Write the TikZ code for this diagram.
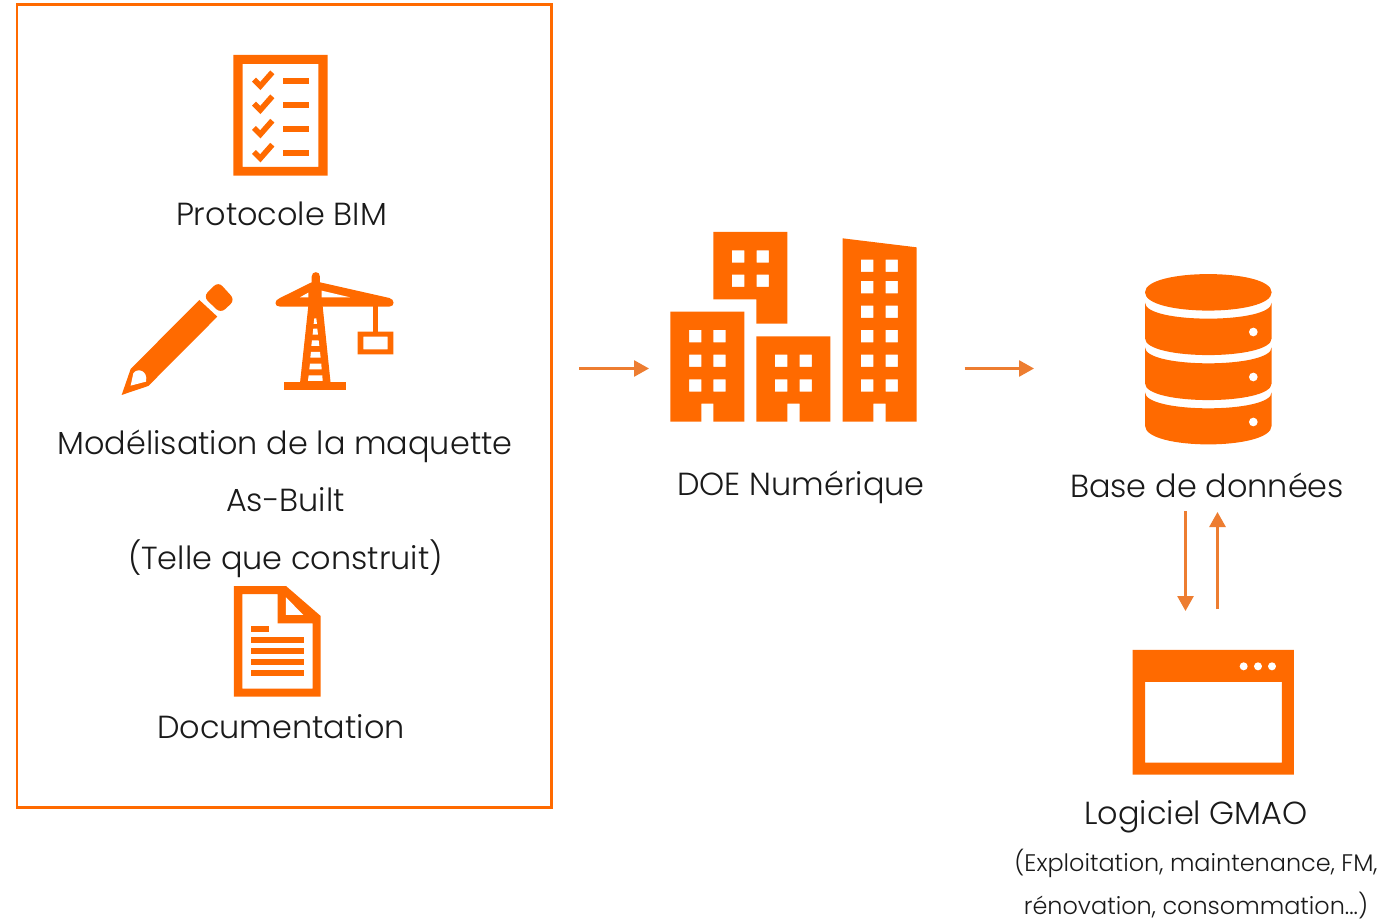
\documentclass[tikz,border=0pt]{standalone}
\usepackage{fontspec}
\setmainfont{Poppins}[UprightFont=* Light]
\usetikzlibrary{arrows.meta}
\definecolor{ico}{HTML}{FF6A00}
\definecolor{arr}{HTML}{ED7D31}
\definecolor{txt}{HTML}{1A1A1A}
\tikzset{
  lab/.style={anchor=base,inner sep=0pt,text=txt,font=\fontsize{31.9}{32}\selectfont},
  sublab/.style={anchor=base,inner sep=0pt,text=txt,font=\fontsize{23.95}{24}\selectfont},
  frame/.style={draw=ico,line width=2.7pt},
  conn/.style={draw=arr,line width=2.7pt,-{Triangle[length=15pt,width=16pt]}},
  ic/.style={fill=ico,draw=none},
  hole/.style={fill=white,draw=none}
}
\newcommand{\win}[2]{(#1,#2) rectangle ++(37,37)}
\begin{document}
\begin{tikzpicture}[x=1pt,y=-1pt]
\useasboundingbox (0,0) rectangle (1398,920);
\fill[white] (0,0) rectangle (1398,920);
\draw[frame] (17,4.5) rectangle (551.5,807.5);

% checklist + pencil + crane (zoom coordinates)
\begin{scope}[shift={(100,40)},x=0.3333pt,y=-0.3333pt]
\fill[ic,even odd rule] (400,45) rectangle (683,407) (428,72) rectangle (655,381);
\foreach \d in {0,72,145,217}{
  \fill[ic] (550,113+\d) rectangle (628,131+\d);
  \draw[ico,line width=5.6pt] (462,119+\d) -- (481,138+\d) -- (517,97+\d);
}
% pencil
\fill[ic] (65,1065) -- (92,987) -- (298,780) -- (352,830) -- (145,1038) -- cycle;
\fill[ic,rounded corners=6pt] (310,770) -- (355,725) -- (405,780) -- (362,820) -- cycle;
\fill[hole] (92,1037) -- (100,1000) .. controls (112,982) and (145,992) .. (138,1025) -- cycle;
% crane
\fill[ic] (540,774) -- (635,727) -- (635,710) .. controls (635,692) and (660,692) .. (660,710) -- (660,727) -- (868,774)
  .. controls (885,778) and (885,800) .. (868,800) -- (540,800) .. controls (522,800) and (522,780) .. (540,774) -- cycle;
\fill[hole] (600,772) -- (625,758) -- (625,772) -- cycle;
\fill[hole] (665,752) -- (750,772) -- (665,772) -- cycle;
\fill[ic] (625,798) -- (668,798) -- (692,1030) -- (600,1030) -- cycle;
\fill[hole] (643,835) -- (649,835) -- (651,852) -- (641,852) -- cycle;
\fill[hole] (640,866) -- (652,866) -- (654,884) -- (638,884) -- cycle;
\fill[hole] (636,901) -- (656,901) -- (658,918) -- (634,918) -- cycle;
\fill[hole] (633,936) -- (660,936) -- (662,953) -- (631,953) -- cycle;
\fill[hole] (630,971) -- (664,971) -- (665,988) -- (628,988) -- cycle;
\fill[hole] (626,1006) -- (667,1006) -- (668,1023) -- (624,1023) -- cycle;
\fill[ic] (553,1025) rectangle (738,1051);
\fill[ic] (818,795) rectangle (835,880);
\fill[ic,even odd rule] (773,875) rectangle (880,943) (790,890) rectangle (863,928);
\end{scope}

% document
\begin{scope}[shift={(210,580)},x=0.3333pt,y=-0.3333pt]
\fill[ic,even odd rule] (72,18) -- (228,18) -- (332,108) -- (332,350) -- (72,350) -- cycle
  (97,42) -- (203,42) -- (203,130) -- (308,130) -- (308,326) -- (97,326) -- cycle;
\fill[hole] (228,52) -- (280,105) -- (228,105) -- cycle;
\fill[ic] (122,139) rectangle (178,155);
\foreach \y in {172,205,238,271}{\fill[ic] (122,\y) rectangle (282,\y+16);}
\end{scope}

% buildings
\begin{scope}[shift={(650,220)},x=0.3333pt,y=-0.3333pt]
\fill[ic,even odd rule] (61,275) -- (283,275) -- (283,605) -- (190,605) -- (190,551) -- (154,551) -- (154,605) -- (61,605) -- cycle
  \win{117}{330} \win{190}{330} \win{117}{404} \win{190}{404} \win{117}{478} \win{190}{478};
\fill[ic,even odd rule] (190,36) -- (412,36) -- (412,311) -- (319,311) -- (319,238) -- (190,238) -- cycle
  \win{246}{91} \win{320}{91} \win{246}{164} \win{320}{164};
\fill[ic,even odd rule] (319,349) -- (541,349) -- (541,605) -- (449,605) -- (449,551) -- (412,551) -- (412,605) -- (319,605) -- cycle
  \win{375}{404} \win{449}{404} \win{375}{478} \win{449}{478};
\fill[ic,even odd rule] (578,55) -- (800,82) -- (800,605) -- (707,605) -- (707,551) -- (670,551) -- (670,605) -- (578,605) -- cycle
  \win{633}{119} \win{707}{119} \win{633}{183} \win{707}{183} \win{633}{257} \win{707}{257}
  \win{633}{330} \win{707}{330} \win{633}{404} \win{707}{404} \win{633}{478} \win{707}{478};
\end{scope}

% database
\begin{scope}[shift={(1120,260)},x=0.3333pt,y=-0.3333pt]
\fill[ic] (75,97) .. controls (75,24) and (455,24) .. (455,97) .. controls (455,170) and (75,170) .. (75,97) -- cycle;
\fill[ic] (75,128) .. controls (75,192) and (455,192) .. (455,128) -- (455,235) .. controls (455,302) and (75,302) .. (75,235) -- cycle;
\fill[ic] (75,262) .. controls (75,326) and (455,326) .. (455,262) -- (455,370) .. controls (455,437) and (75,437) .. (75,370) -- cycle;
\fill[ic] (75,397) .. controls (75,461) and (455,461) .. (455,397) -- (455,497) .. controls (455,572) and (75,572) .. (75,497) -- cycle;
\foreach \y in {216,351,486}{\fill[hole] (400,\y) circle[radius=13];}
\end{scope}

% window
\begin{scope}[shift={(1120,500)},x=0.3333pt,y=-0.3333pt]
\fill[ic,even odd rule] (38,450) rectangle (522,824) (75,546) rectangle (486,788);
\foreach \x in {371,414,456}{\fill[hole] (\x,499) circle[radius=12];}
\end{scope}

% labels
\node[lab] (protocole) at (281.5,226) {Protocole BIM};
\node[lab] (modelisation) at (285,454.5) {Modélisation de la maquette};
\node[lab] (asbuilt) at (285.5,511.5) {As-Built};
\node[lab] (telle) at (285.5,569.5) {(Telle que construit)};
\node[lab] (documentation) at (281,738.5) {Documentation};
\node[lab] (doe) at (801,495.5) {DOE Numérique};
\node[lab] (base) at (1207,497.5) {Base de données};
\node[lab] (gmao) at (1196,824.5) {Logiciel GMAO};
\node[sublab] (exploit) at (1196,871) {(Exploitation, maintenance, FM,};
\node[sublab] (renov) at (1196,914) {rénovation, consommation...)};

% connectors
\coordinate (h1a) at (579,368.5); \coordinate (h1b) at (649,368.5);
\coordinate (h2a) at (964.5,368.5); \coordinate (h2b) at (1034,368.5);
\coordinate (d1a) at (1185.5,511); \coordinate (d1b) at (1185.5,611);
\coordinate (u1a) at (1217.5,609); \coordinate (u1b) at (1217.5,512);
\draw[conn] (h1a) -- (h1b);
\draw[conn] (h2a) -- (h2b);
\draw[conn] (d1a) -- (d1b);
\draw[conn] (u1a) -- (u1b);
\end{tikzpicture}
\end{document}
